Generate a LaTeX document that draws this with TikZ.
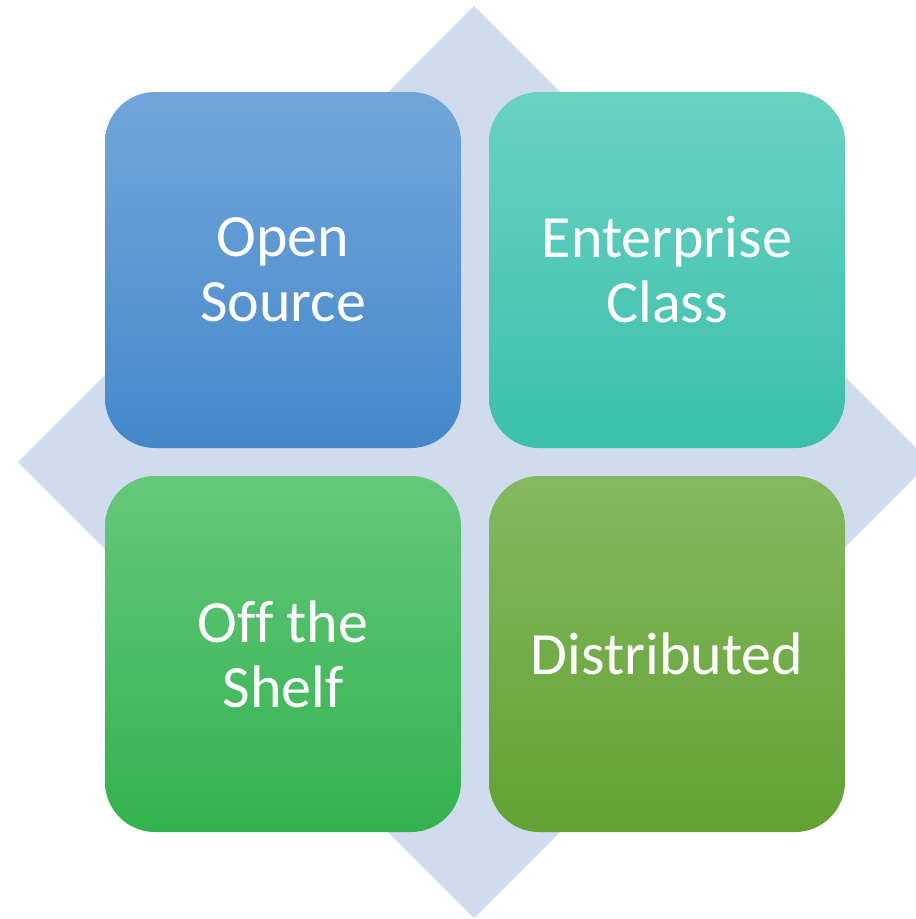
\documentclass[tikz,border=0pt]{standalone}
\usepackage{fontspec}
\setmainfont[Ligatures=NoCommon]{Carlito}
\definecolor{diam}{HTML}{D0DCEE}
\definecolor{tlA}{HTML}{72A6DB}
\definecolor{tlB}{HTML}{4488CA}
\definecolor{trA}{HTML}{69D2C1}
\definecolor{trB}{HTML}{3BBFAD}
\definecolor{blA}{HTML}{65C87B}
\definecolor{blB}{HTML}{32B24E}
\definecolor{brA}{HTML}{84B960}
\definecolor{brB}{HTML}{62A132}
\tikzset{
  tile/.style={rectangle, rounded corners=50pt, minimum width=356pt, minimum height=356pt,
    inner sep=0pt, text=white, align=center, draw=none,
    font=\fontsize{60}{65}\selectfont},
}
\begin{document}
\begin{tikzpicture}[x=1pt,y=-1pt]
\useasboundingbox (0,0) rectangle (916,919);
\clip (0,0) rectangle (916,919);
\fill[diam] (474,6) -- (930,462) -- (474,918) -- (18,462) -- cycle;
\node[tile, top color=tlA, bottom color=tlB] (os) at (283,270) {Open\\Source};
\node[tile, top color=trA, bottom color=trB] (ec) at (667,270) {Enterprise\\Class};
\node[tile, top color=blA, bottom color=blB] (ots) at (283,654) {Off the\\Shelf};
\node[tile, top color=brA, bottom color=brB] (dist) at (667,654) {Distributed};
\end{tikzpicture}
\end{document}
